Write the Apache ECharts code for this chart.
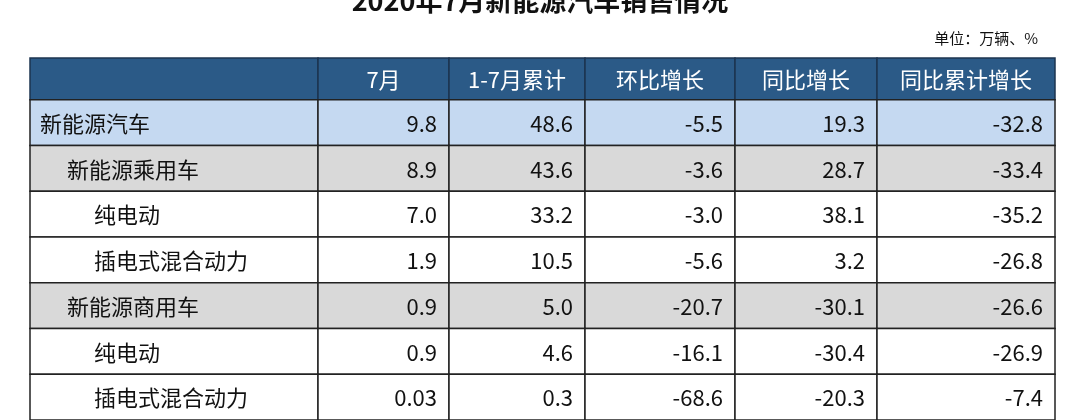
<!DOCTYPE html>
<html><head><meta charset="utf-8">
<script src="https://cdn.jsdelivr.net/npm/echarts@6/dist/echarts.min.js"></script>
<style>html,body{margin:0;background:#fff}#c{width:1080px;height:420px}</style>
</head><body><div id="c"></div>
<script>
const headers = ['', '7月', '1-7月累计', '环比增长', '同比增长', '同比累计增长'];
const rowLabels = ['新能源汽车', '新能源乘用车', '纯电动', '插电式混合动力', '新能源商用车', '纯电动', '插电式混合动力'];
const rowLevels = [0, 1, 2, 2, 1, 2, 2];
const july = ['9.8', '8.9', '7.0', '1.9', '0.9', '0.9', '0.03'];
const cumulative = ['48.6', '43.6', '33.2', '10.5', '5.0', '4.6', '0.3'];
const momGrowth = ['-5.5', '-3.6', '-3.0', '-5.6', '-20.7', '-16.1', '-68.6'];
const yoyGrowth = ['19.3', '28.7', '38.1', '3.2', '-30.1', '-30.4', '-20.3'];
const yoyCumGrowth = ['-32.8', '-33.4', '-35.2', '-26.8', '-26.6', '-26.9', '-7.4'];

const cols = [rowLabels, july, cumulative, momGrowth, yoyGrowth, yoyCumGrowth];
// layout (pixel units inside grid)
const colEdges = [0, 288, 419, 555, 705, 847, 1025];
const HEAD = 42, ROW = 46;
const rowBg = ['#c5d9f1', '#d9d9d9', '#ffffff', '#ffffff', '#d9d9d9', '#ffffff', '#ffffff'];
const FONT = '"Noto Sans CJK SC", "Noto Sans", sans-serif';

const data = [];
for (let c = 0; c < headers.length; c++) data.push([-1, c]);
for (let r = 0; r < rowLabels.length; r++) for (let c = 0; c < cols.length; c++) data.push([r, c]);

function renderItem(params, api) {
  const r = api.value(0), c = api.value(1);
  const y0 = r < 0 ? 0 : HEAD + r * ROW;
  const y1 = r < 0 ? HEAD : y0 + ROW;
  const p0 = api.coord([colEdges[c], y0]);
  const p1 = api.coord([colEdges[c + 1], y1]);
  const x = p0[0], y = p0[1], w = p1[0] - p0[0], h = p1[1] - p0[1];
  let text, fill, color = '#111', tx, align;
  if (r < 0) {
    text = headers[c]; fill = '#2b5a87'; color = '#fff'; tx = x + w / 2; align = 'center';
  } else {
    fill = rowBg[r];
    if (c === 0 && r === 2 || c === 0 && r === 3 || c === 0 && r >= 5) fill = '#ffffff';
    text = cols[c][r];
    if (c === 0) { tx = x + 10 + rowLevels[r] * 27; align = 'left'; }
    else { tx = x + w - 12; align = 'right'; }
  }
  return {
    type: 'group',
    children: [
      { type: 'rect', shape: { x, y, width: w, height: h },
        style: { fill, stroke: r < 0 ? '#1d3550' : '#222', lineWidth: 1.5 } },
      { type: 'text', style: { x: tx, y: y + h / 2 + 1, text, fill: color, align, verticalAlign: 'middle',
        font: '22px ' + FONT } }
    ]
  };
}

const chart = echarts.init(document.getElementById('c'));
chart.setOption({
  animation: false,
  title: { text: '2020年7月新能源汽车销售情况', left: 'center', top: -18,
    textStyle: { fontSize: 27, fontWeight: 'bold', color: '#111', fontFamily: FONT } },
  graphic: [{ type: 'text', right: 42, top: 31,
    style: { text: '单位：万辆、%', font: '15px ' + FONT, fill: '#111' } }],
  grid: { left: 30, top: 58, width: 1025, height: 364 },
  xAxis: { type: 'value', min: 0, max: 1025, show: false },
  yAxis: { type: 'value', min: 0, max: 364, inverse: true, show: false },
  series: [{ type: 'custom', renderItem, data, clip: false }]
});
</script></body></html>
